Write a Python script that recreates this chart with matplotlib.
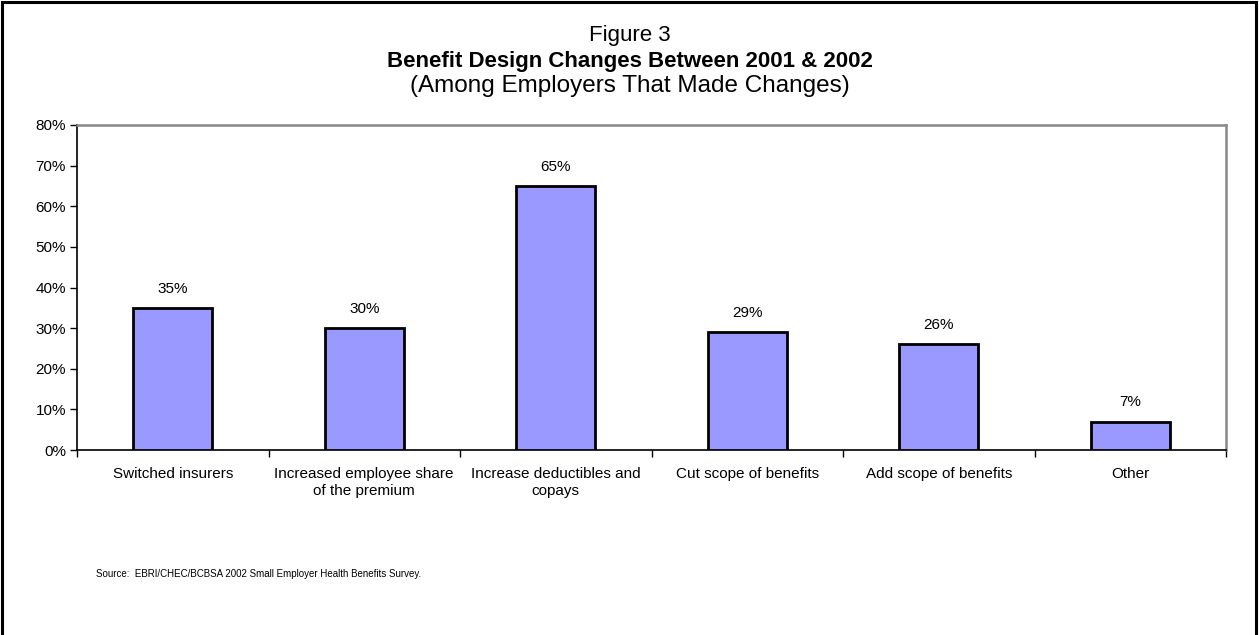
import matplotlib
matplotlib.use("Agg")
import matplotlib.pyplot as plt
from matplotlib.patches import Rectangle
from matplotlib.ticker import FuncFormatter

plt.rcParams['font.family'] = ['Liberation Sans', 'DejaVu Sans']

categories = [
    "Switched insurers",
    "Increased employee share\nof the premium",
    "Increase deductibles and\ncopays",
    "Cut scope of benefits",
    "Add scope of benefits",
    "Other",
]
values = [35, 30, 65, 29, 26, 7]
value_labels = ["35%", "30%", "65%", "29%", "26%", "7%"]
y_ticks = [0, 10, 20, 30, 40, 50, 60, 70, 80]

W, H = 1259, 635
fig = plt.figure(figsize=(W / 100, H / 100), dpi=100)

# outer frame (open at the bottom)
fig.add_artist(Rectangle((2 / W, -0.01), (W - 5) / W, 1 - 2 / H + 0.01,
                         transform=fig.transFigure, fill=False,
                         edgecolor='black', linewidth=2.2))

left, right = 77 / W, 1226 / W
bottom, top = 1 - 450 / H, 1 - 125 / H
ax = fig.add_axes([left, bottom, right - left, top - bottom])

x = list(range(len(categories)))
ax.bar(x, values, width=0.41, color='#9999FF', edgecolor='black', linewidth=2, zorder=3)
for xi, v, lab in zip(x, values, value_labels):
    ax.text(xi, v + 3, lab, ha='center', va='bottom', fontsize=11)

ax.set_xlim(-0.5, len(categories) - 0.5)
ax.set_ylim(0, 80)
ax.set_yticks(y_ticks)
ax.yaxis.set_major_formatter(FuncFormatter(lambda v, p: f"{int(v)}%"))
ax.tick_params(axis='y', direction='out', length=5, width=1, labelsize=11, pad=3)

ax.set_xticks(x)
ax.set_xticklabels(categories, fontsize=11, linespacing=1.28)
ax.set_xticks([i - 0.5 for i in range(len(categories) + 1)], minor=True)
ax.tick_params(axis='x', which='major', length=0, pad=12)
ax.tick_params(axis='x', which='minor', direction='out', length=5, width=1)

for s in ('left', 'bottom'):
    ax.spines[s].set_color('black')
    ax.spines[s].set_linewidth(1.2)
for s in ('top', 'right'):
    ax.spines[s].set_color('#888888')
    ax.spines[s].set_linewidth(1.8)

fig.text(0.5, 1 - 36 / H, "Figure 3", ha='center', va='center', fontsize=16)
fig.text(0.5, 1 - 61 / H, "Benefit Design Changes Between 2001 & 2002",
         ha='center', va='center', fontsize=16, fontweight='bold')
fig.text(0.5, 1 - 86 / H, "(Among Employers That Made Changes)",
         ha='center', va='center', fontsize=17.5)

fig.text(96 / W, 1 - 574 / H,
         "Source:  EBRI/CHEC/BCBSA 2002 Small Employer Health Benefits Survey.",
         ha='left', va='center', fontsize=7)

fig.savefig("out.png", dpi=100, facecolor='white')
